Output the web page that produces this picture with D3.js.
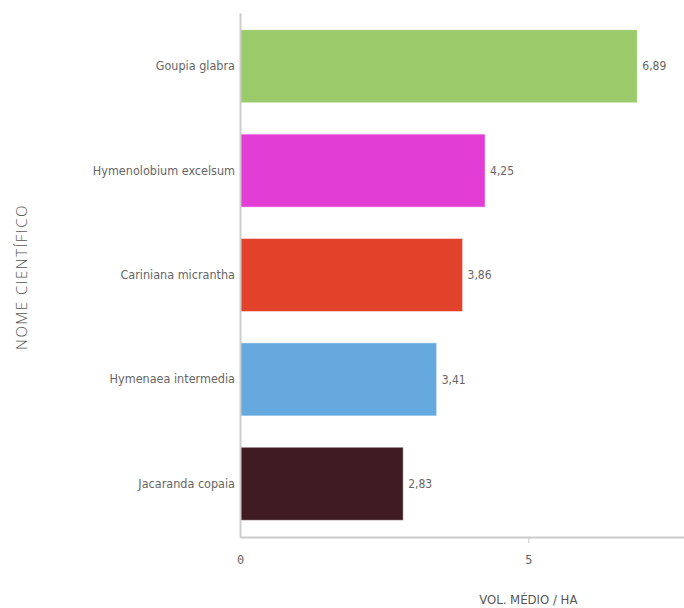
<!DOCTYPE html>
<html>
<head>
<meta charset="utf-8">
<script src="https://cdn.jsdelivr.net/npm/d3@7"></script>
<style>
  body { margin: 0; background: #fff; }
  text { font-family: "DejaVu Sans Condensed", "Roboto", sans-serif; }
</style>
</head>
<body>
<div id="container"></div>
<script>
/* DATA */
const species = ["Goupia glabra", "Hymenolobium excelsum", "Cariniana micrantha", "Hymenaea intermedia", "Jacaranda copaia"];
const volumes = [6.89, 4.25, 3.86, 3.41, 2.83];
const barColors = ["#9bca6a", "#e23dd4", "#e2412a", "#65a9de", "#3f1c21"];
const xTicks = [0, 5];

const width = 684, height = 608;
const margin = { top: 13, left: 240, right: 0, bottom: 71 };

const data = species.map((s, i) => ({ name: s, value: volumes[i], color: barColors[i] }));

/* SCALES */
const xScale = d3.scaleLinear()
  .domain([0, 7.7])
  .range([margin.left, width - margin.right]);

const yScale = d3.scaleBand()
  .domain(species)
  .range([margin.top, height - margin.bottom])
  .paddingInner(0.3)
  .paddingOuter(0.16);

const svg = d3.select("#container")
  .append("svg")
  .attr("width", width)
  .attr("height", height);

// bars
svg.selectAll("rect.bar")
  .data(data)
  .join("rect")
  .attr("class", "bar")
  .attr("x", xScale(0))
  .attr("y", d => yScale(d.name))
  .attr("width", d => xScale(d.value) - xScale(0))
  .attr("height", yScale.bandwidth())
  .attr("fill", d => d.color)
  .attr("stroke", "rgba(255,255,255,0.5)")
  .attr("stroke-width", 1);

// value labels
svg.selectAll("text.val")
  .data(data)
  .join("text")
  .attr("class", "val")
  .attr("x", d => xScale(d.value) + 5)
  .attr("y", d => yScale(d.name) + yScale.bandwidth() / 2)
  .attr("dy", "0.35em")
  .attr("font-size", 12)
  .attr("fill", "#666")
  .text(d => d3.format(".2f")(d.value).replace(".", ","));

// y axis
const yAxis = svg.append("g")
  .attr("transform", `translate(${margin.left},0)`)
  .call(d3.axisLeft(yScale).tickSize(0).tickPadding(5));
yAxis.select(".domain").attr("stroke", "#ccc").attr("stroke-width", 2);
yAxis.selectAll("text").attr("font-size", 12.5).attr("fill", "#666")
  .style("font-family", "'DejaVu Sans Condensed', sans-serif");

// x axis
const xAxis = svg.append("g")
  .attr("transform", `translate(0,${height - margin.bottom})`)
  .call(d3.axisBottom(xScale).tickValues(xTicks).tickSize(6).tickSizeOuter(0).tickPadding(12).tickFormat(d3.format("d")));
xAxis.select(".domain").attr("stroke", "#ccc").attr("stroke-width", 2);
xAxis.selectAll(".tick line").attr("stroke", "#ccc");
xAxis.selectAll(".tick").filter(d => d === 0).select("line").remove();
xAxis.selectAll("text").attr("font-size", 12).attr("fill", "#666")
  .style("font-family", "'DejaVu Sans Mono', monospace");

// axis titles
svg.append("text")
  .attr("x", xScale(5))
  .attr("y", 604)
  .attr("text-anchor", "middle")
  .attr("font-size", 13)
  .attr("fill", "#555")
  .text("VOL. MÉDIO / HA");

svg.append("text")
  .attr("transform", `translate(27,${(margin.top + height - margin.bottom) / 2 + 2}) rotate(-90)`)
  .attr("text-anchor", "middle")
  .attr("font-size", 15)
  .attr("letter-spacing", 1.5)
  .attr("fill", "#555")
  .style("font-family", "'Open Sans', sans-serif")
  .style("font-weight", 300)
  .text("NOME CIENTÍFICO");
</script>
</body>
</html>
